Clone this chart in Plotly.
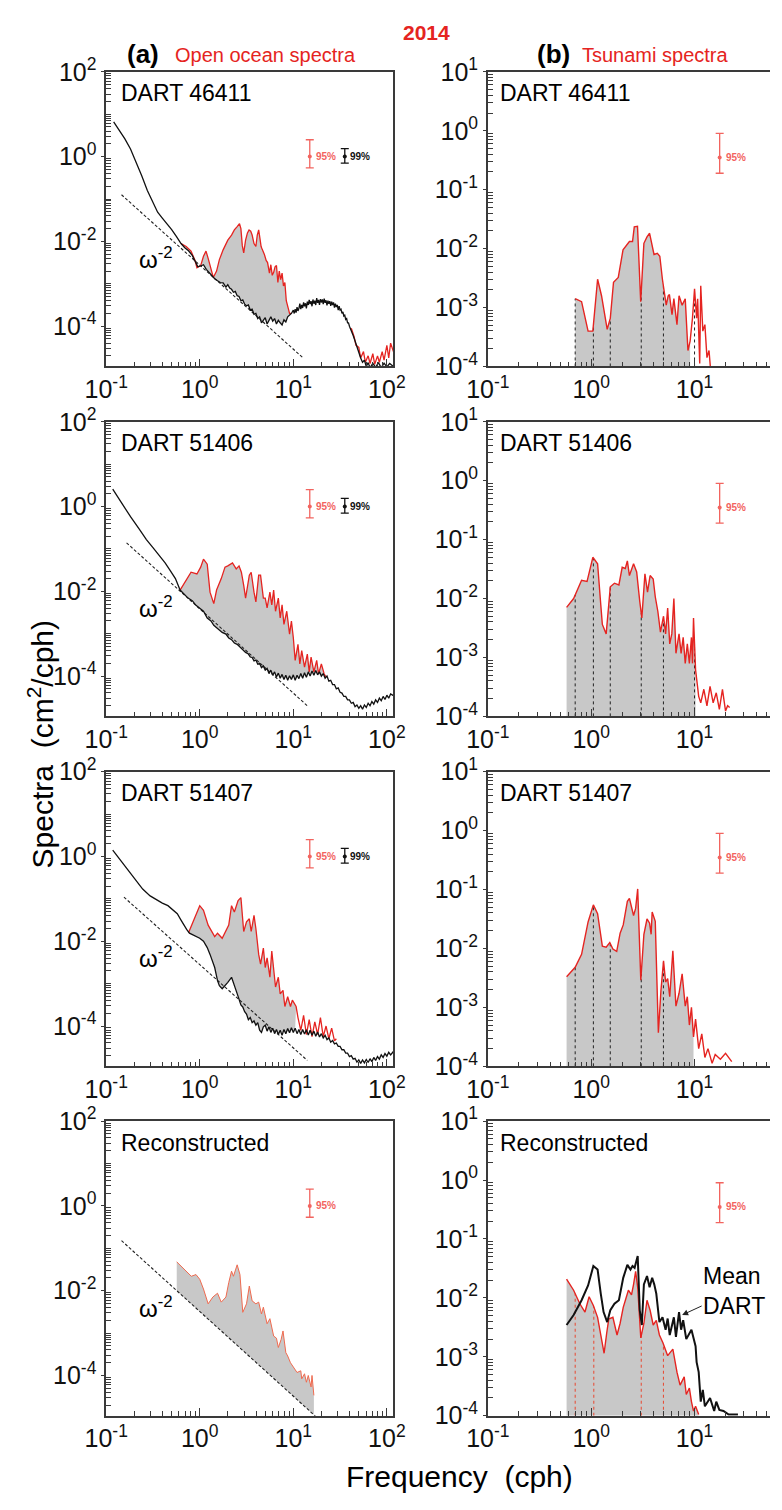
import numpy as np
import plotly.graph_objects as go

# ---------------- data: log10(frequency, cph) and log10(spectrum, cm^2/cph) ----------------
# (a) open-ocean spectra -- DART 46411 (background, black)
a1_bg_lf = [-0.92,-0.86,-0.80,-0.74,-0.68,-0.62,-0.56,-0.50,-0.45,-0.40,-0.35,-0.30,-0.25,-0.20,-0.16,-0.12,-0.08,-0.05,-0.02,0.01,0.04,0.07,0.10,0.13,0.16,0.19,0.22,0.25,
            0.28,0.30,0.32,0.34,0.36,0.38,0.40,0.42,0.44,0.46,0.48,0.50,0.52,0.54,0.56,0.58,0.60,0.62,0.64,0.66,0.68,0.70,0.72,0.74,0.76,0.78,0.80,0.82,0.84,0.86,0.88,0.90,
            0.92,0.94,0.96,0.98,1.00,1.01,1.02,1.03,1.04,1.05,1.06,1.07,1.08,1.09,1.10,1.11,1.12,1.13,1.14,1.15,1.16,1.17,1.18,1.19,1.20,1.21,1.22,1.23,1.24,1.25,1.26,1.27,
            1.28,1.29,1.30,1.31,1.32,1.33,1.34,1.35,1.36,1.37,1.38,1.39,1.40,1.41,1.42,1.43,1.44,1.45,1.46,1.47,1.48,1.49,1.50,1.51,1.52,1.53,1.54,1.55,1.56,1.57,1.58,1.59,
            1.60,1.62,1.64,1.66,1.68,1.70,1.72,1.74,1.76,1.78,1.80,1.82,1.85,1.88,1.91,1.94,1.97,2.00,2.03,2.07]
a1_bg_ls = [0.82,0.62,0.42,0.18,-0.12,-0.45,-0.80,-1.10,-1.31,-1.45,-1.58,-1.72,-1.88,-2.05,-2.15,-2.22,-2.33,-2.45,-2.60,-2.58,-2.55,-2.66,-2.74,-2.80,-2.88,-2.93,-2.97,-2.98,
            -3.08,-3.02,-3.10,-3.13,-3.20,-3.18,-3.28,-3.30,-3.40,-3.38,-3.48,-3.52,-3.50,-3.62,-3.60,-3.72,-3.70,-3.82,-3.78,-3.92,-3.85,-3.80,-3.95,-3.86,-3.78,-3.88,-3.82,-3.95,-3.86,-3.92,-3.97,-3.85,
            -3.90,-3.78,-3.74,-3.70,-3.62,-3.70,-3.60,-3.68,-3.55,-3.64,-3.58,-3.47,-3.60,-3.50,-3.57,-3.44,-3.53,-3.46,-3.58,-3.42,-3.50,-3.38,-3.48,-3.41,-3.53,-3.37,-3.47,-3.40,-3.50,-3.34,-3.45,-3.38,
            -3.50,-3.36,-3.44,-3.37,-3.48,-3.35,-3.45,-3.39,-3.51,-3.40,-3.47,-3.41,-3.52,-3.42,-3.50,-3.44,-3.56,-3.47,-3.55,-3.50,-3.62,-3.53,-3.62,-3.60,-3.70,-3.66,-3.76,-3.74,-3.84,-3.82,-3.92,-3.92,
            -4.00,-4.10,-4.22,-4.35,-4.50,-4.62,-4.75,-4.85,-4.80,-4.95,-4.86,-4.98,-4.88,-4.97,-4.86,-4.98,-4.87,-4.96,-4.88,-4.95]
# DART 46411 (tsunami event, red)
a1_ts_lf = [-0.20,-0.145,-0.093,-0.05,-0.03,0.01,0.04,0.067,0.09,0.11,0.145,0.18,0.21,0.25,0.30,0.34,0.37,0.40,0.425,0.44,0.455,0.47,0.49,0.51,0.527,0.545,0.56,0.58,0.60,0.615,0.63,0.645,0.656,0.67,0.69,0.71,0.725,0.745,0.76,0.775,0.79,0.805,0.82,0.835,0.85,0.865,0.88,0.895,0.91,0.925,0.94,0.96,0.98]
a1_ts_ls = [-2.05,-2.12,-2.23,-2.45,-2.62,-2.57,-2.35,-2.23,-2.40,-2.57,-2.85,-2.70,-2.43,-2.20,-1.97,-1.85,-1.73,-1.65,-1.58,-1.70,-2.10,-2.27,-1.97,-1.80,-1.73,-1.76,-1.85,-2.05,-2.12,-1.85,-1.73,-1.95,-2.12,-2.20,-2.30,-2.45,-2.50,-2.75,-2.55,-2.80,-2.73,-2.60,-2.57,-2.97,-2.70,-2.90,-2.75,-3.05,-2.97,-3.40,-3.55,-3.70,-3.70]
a1_hf_lf = [1.62,1.65,1.67,1.70,1.72,1.75,1.77,1.80,1.82,1.85,1.87,1.90,1.92,1.95,1.97,2.00,2.02,2.04,2.07]
a1_hf_ls = [-4.05,-4.25,-4.45,-4.50,-4.75,-4.60,-4.85,-4.70,-4.88,-4.65,-4.90,-4.70,-4.85,-4.60,-4.80,-4.45,-4.75,-4.40,-4.60]
a1_w2_lf = [-0.836, 1.10]
a1_w2_ls = [-0.90, -4.74]

# DART 51406
a2_bg_lf = [-0.93,-0.85,-0.74,-0.65,-0.57,-0.50,-0.43,-0.37,-0.315,-0.26,-0.21,-0.17,-0.125,-0.08,-0.04,0.0,0.04,0.08,0.12,0.15,0.18,0.21,0.24,0.28,0.31,0.34,0.37,0.40,0.43,0.46,0.49,
            0.52,0.54,0.56,0.58,0.60,0.62,0.64,0.66,0.68,0.70,0.72,0.74,0.76,0.78,0.80,0.82,0.84,0.86,0.88,0.90,0.92,0.94,0.96,0.98,1.00,1.02,1.04,1.06,1.08,1.10,1.12,1.14,
            1.16,1.18,1.20,1.22,1.24,1.26,1.28,1.30,1.32,1.34,1.36,1.38,1.40,1.42,1.44,1.46,1.48,1.50,1.52,1.54,1.56,1.58,1.60,1.62,1.64,1.66,1.68,1.70,1.72,1.74,1.76,1.78,
            1.80,1.82,1.84,1.86,1.88,1.90,1.92,1.94,1.96,1.98,2.00,2.02,2.04,2.07]
a2_bg_ls = [0.41,0.13,-0.24,-0.52,-0.78,-0.97,-1.16,-1.33,-1.51,-1.70,-1.97,-2.05,-2.16,-2.22,-2.33,-2.40,-2.47,-2.63,-2.70,-2.80,-2.86,-2.90,-2.97,-3.01,-3.10,-3.14,-3.22,-3.25,-3.32,-3.38,-3.44,
            -3.48,-3.55,-3.56,-3.64,-3.62,-3.72,-3.70,-3.80,-3.76,-3.86,-3.82,-3.94,-3.86,-3.98,-3.90,-4.02,-3.93,-4.05,-3.96,-4.08,-3.98,-4.10,-3.99,-4.08,-3.97,-4.10,-3.98,-4.06,-3.94,-4.05,-3.92,-4.03,
            -3.90,-4.00,-3.88,-3.98,-3.87,-3.97,-3.90,-4.00,-3.94,-4.05,-4.00,-4.12,-4.10,-4.20,-4.20,-4.30,-4.28,-4.38,-4.40,-4.48,-4.48,-4.56,-4.56,-4.64,-4.62,-4.72,-4.68,-4.76,-4.70,-4.78,-4.68,-4.74,
            -4.64,-4.70,-4.60,-4.66,-4.56,-4.62,-4.52,-4.58,-4.48,-4.55,-4.45,-4.52,-4.42,-4.46]
a2_ts_lf = [-0.21,-0.16,-0.093,-0.03,0.01,0.04,0.08,0.11,0.15,0.18,0.23,0.27,0.30,0.35,0.39,0.42,0.445,0.47,0.49,0.53,0.55,0.58,0.60,0.63,0.65,0.68,0.70,0.72,0.75,0.77,0.79,0.81,0.84,0.86,0.88,0.90,0.93,0.96,0.98,1.00,1.02,1.05,1.07,1.09,1.12,1.15,1.17,1.19,1.22,1.25,1.27,1.30,1.33,1.35]
a2_ts_ls = [-1.97,-1.78,-1.55,-1.59,-1.43,-1.24,-1.36,-2.02,-2.29,-1.97,-1.70,-1.43,-1.40,-1.33,-1.47,-1.40,-1.55,-1.86,-2.16,-1.62,-1.55,-2.02,-2.25,-1.62,-1.62,-2.16,-2.16,-2.39,-2.02,-2.32,-1.97,-2.47,-2.16,-2.63,-2.32,-2.78,-2.47,-3.01,-2.70,-3.09,-3.63,-3.25,-3.71,-3.40,-3.79,-3.48,-3.90,-3.55,-3.90,-3.63,-3.95,-3.71,-3.95,-4.02]
a2_w2_lf = [-0.782, 1.15]
a2_w2_ls = [-0.857, -4.70]

# DART 51407
a3_bg_lf = [-0.93,-0.85,-0.775,-0.70,-0.61,-0.53,-0.455,-0.40,-0.34,-0.29,-0.24,-0.20,-0.17,-0.14,-0.11,-0.07,-0.03,0.0,0.04,0.08,0.11,0.14,0.16,0.19,0.21,0.24,0.27,0.30,0.34,0.38,0.41,
            0.44,0.46,0.48,0.50,0.52,0.54,0.56,0.58,0.60,0.62,0.64,0.66,0.68,0.70,0.72,0.74,0.76,0.78,0.80,0.82,0.84,0.86,0.88,0.90,0.92,0.94,0.96,0.98,1.00,1.02,1.04,1.06,
            1.08,1.10,1.12,1.14,1.16,1.18,1.20,1.22,1.24,1.26,1.28,1.30,1.32,1.34,1.36,1.38,1.40,1.42,1.44,1.46,1.48,1.50,1.52,1.54,1.56,1.58,1.60,1.62,1.64,1.66,1.68,1.70,
            1.72,1.74,1.76,1.78,1.80,1.82,1.84,1.86,1.88,1.90,1.92,1.94,1.96,1.98,2.00,2.02,2.04,2.07]
a3_bg_ls = [0.15,-0.08,-0.31,-0.52,-0.77,-0.93,-1.04,-1.10,-1.16,-1.25,-1.35,-1.50,-1.62,-1.72,-1.81,-1.85,-1.89,-1.93,-2.00,-2.15,-2.31,-2.50,-2.62,-2.93,-3.05,-3.12,-3.05,-2.97,-2.85,-3.08,-3.30,
            -3.50,-3.55,-3.66,-3.72,-3.85,-3.80,-3.92,-3.88,-3.98,-3.92,-4.10,-4.15,-4.02,-3.98,-4.12,-4.02,-4.15,-4.05,-4.18,-4.08,-4.20,-4.10,-4.22,-4.08,-4.18,-4.06,-4.16,-4.04,-4.15,-4.05,-4.18,-4.08,
            -4.20,-4.08,-4.19,-4.09,-4.21,-4.10,-4.22,-4.12,-4.24,-4.14,-4.26,-4.18,-4.28,-4.22,-4.32,-4.28,-4.38,-4.34,-4.42,-4.40,-4.48,-4.48,-4.56,-4.56,-4.64,-4.64,-4.72,-4.70,-4.78,-4.76,-4.85,-4.80,
            -4.88,-4.80,-4.87,-4.79,-4.86,-4.77,-4.84,-4.74,-4.81,-4.72,-4.78,-4.68,-4.74,-4.65,-4.71,-4.62,-4.68,-4.60]
a3_ts_lf = [-0.12,-0.05,0.0,0.04,0.09,0.16,0.19,0.24,0.27,0.31,0.34,0.37,0.41,0.44,0.47,0.50,0.53,0.55,0.58,0.60,0.63,0.65,0.68,0.70,0.72,0.75,0.77,0.79,0.81,0.84,0.86,0.89,0.91,0.94,0.97,0.99,1.03,1.05,1.08,1.11,1.14,1.17,1.20,1.23,1.26,1.29,1.32,1.35,1.38,1.41,1.44,1.46]
a3_ts_ls = [-1.80,-1.43,-1.16,-1.27,-1.62,-1.89,-1.81,-1.93,-1.81,-1.62,-1.16,-1.31,-1.04,-0.97,-1.77,-1.54,-1.47,-1.77,-1.39,-1.70,-2.31,-2.54,-2.16,-2.62,-2.39,-2.85,-2.23,-2.70,-3.08,-2.85,-3.24,-3.16,-3.54,-3.31,-3.54,-3.39,-3.54,-3.80,-4.10,-3.75,-4.20,-3.85,-4.25,-3.90,-4.20,-3.80,-4.25,-4.00,-4.30,-4.05,-4.35,-4.30]
a3_w2_lf = [-0.81, 1.15]
a3_w2_ls = [-0.96, -4.81]

# Reconstructed open-ocean spectrum
a4_ts_lf = [-0.246,-0.16,-0.09,-0.04,0.0,0.04,0.09,0.14,0.19,0.23,0.28,0.31,0.34,0.36,0.40,0.43,0.46,0.50,0.53,0.56,0.60,0.63,0.66,0.68,0.72,0.75,0.79,0.82,0.84,0.87,0.89,0.92,0.94,0.97,0.99,1.02,1.04,1.08,1.09,1.12,1.14,1.16,1.19,1.20,1.22]
a4_ts_ls = [-1.32,-1.50,-1.66,-1.62,-1.73,-1.96,-2.31,-2.15,-2.06,-2.27,-2.15,-1.81,-1.54,-1.66,-1.39,-1.62,-2.51,-2.31,-1.89,-2.24,-2.31,-2.27,-2.55,-2.39,-2.78,-2.66,-3.07,-3.12,-3.34,-3.15,-2.95,-3.46,-3.54,-3.70,-3.77,-3.85,-3.93,-3.89,-4.08,-3.96,-4.16,-4.00,-4.27,-4.00,-4.47]
a4_w2_lf = [-0.836, 1.236]
a4_w2_ls = [-0.82, -4.96]

# (b) tsunami spectra
b1_lf = [-0.155,-0.093,-0.03,0.016,0.062,0.10,0.155,0.185,0.216,0.262,0.308,0.34,0.37,0.40,0.417,0.448,0.479,0.51,0.54,0.565,0.587,0.608,0.64,0.664,0.689,0.726,0.745,0.757,0.782,0.80,0.83,0.85,0.88,0.91,0.936,0.957,0.98,1.0,1.02,1.03,1.05,1.06,1.08,1.10,1.12,1.14,1.155]
b1_ls = [-2.85,-2.90,-3.40,-3.40,-2.52,-2.80,-3.37,-3.18,-2.57,-2.49,-2.02,-1.95,-1.88,-1.88,-1.63,-1.62,-2.90,-1.91,-1.80,-1.74,-1.96,-2.10,-2.08,-2.13,-2.52,-2.96,-2.80,-2.78,-3.12,-2.85,-3.29,-2.80,-2.96,-2.85,-3.73,-3.57,-3.18,-2.68,-3.18,-2.85,-3.95,-2.63,-3.40,-3.29,-3.85,-3.73,-4.05]
b2_lf = [-0.238,-0.17,-0.093,-0.04,0.016,0.062,0.093,0.108,0.145,0.185,0.225,0.268,0.30,0.33,0.35,0.37,0.41,0.44,0.47,0.49,0.52,0.545,0.57,0.60,0.62,0.645,0.67,0.70,0.72,0.74,0.76,0.78,0.80,0.82,0.85,0.87,0.89,0.91,0.93,0.95,0.97,0.98,0.99,1.01,1.04,1.06,1.09,1.12,1.15,1.18,1.21,1.24,1.27,1.30,1.32,1.34]
b2_ls = [-2.15,-2.00,-1.69,-1.71,-1.30,-1.41,-2.11,-2.44,-2.60,-1.80,-1.74,-1.77,-1.47,-1.49,-1.36,-1.61,-1.41,-1.55,-2.05,-2.33,-1.58,-1.89,-1.61,-1.67,-1.97,-2.22,-2.57,-2.30,-2.60,-2.16,-2.77,-2.60,-2.00,-2.93,-2.60,-2.93,-2.66,-3.10,-2.77,-3.10,-2.66,-3.10,-2.33,-3.21,-3.66,-3.77,-3.54,-3.82,-3.49,-3.77,-3.60,-3.88,-3.54,-3.91,-3.82,-3.85]
b3_lf = [-0.238,-0.155,-0.093,-0.03,0.021,0.062,0.108,0.145,0.18,0.21,0.247,0.28,0.31,0.35,0.37,0.41,0.43,0.45,0.48,0.51,0.54,0.565,0.58,0.59,0.62,0.65,0.675,0.70,0.72,0.74,0.76,0.79,0.82,0.85,0.88,0.91,0.93,0.95,0.97,0.99,1.01,1.04,1.07,1.10,1.13,1.17,1.20,1.25,1.30,1.36]
b3_ls = [-2.48,-2.32,-2.10,-1.55,-1.26,-1.41,-1.96,-1.98,-1.90,-2.01,-2.05,-1.74,-1.60,-1.20,-1.15,-1.44,-1.32,-0.99,-2.54,-1.76,-1.50,-1.57,-1.76,-1.38,-1.54,-3.43,-2.71,-2.21,-2.57,-2.51,-2.82,-2.04,-2.98,-2.76,-2.43,-2.98,-2.82,-3.30,-3.00,-3.50,-3.20,-3.70,-3.45,-3.85,-3.70,-3.95,-3.80,-3.88,-3.78,-3.92]
b4_rec_lf = [-0.238,-0.17,-0.11,-0.06,-0.02,0.021,0.062,0.10,0.125,0.15,0.17,0.21,0.25,0.28,0.31,0.36,0.39,0.41,0.43,0.45,0.48,0.51,0.54,0.57,0.60,0.63,0.66,0.694,0.74,0.79,0.83,0.86,0.90,0.92,0.95,0.97,0.99,1.01,1.04]
b4_rec_ls = [-1.68,-1.87,-2.10,-2.24,-1.98,-2.13,-2.33,-2.68,-2.94,-2.60,-2.36,-2.33,-2.63,-2.43,-2.16,-1.87,-1.95,-1.77,-1.55,-1.82,-2.68,-2.43,-2.04,-2.21,-2.46,-2.38,-2.63,-2.76,-2.98,-2.87,-3.26,-3.48,-3.34,-3.64,-3.53,-3.76,-3.92,-3.84,-3.98]
b4_mean_lf = [-0.238,-0.17,-0.093,-0.03,0.021,0.062,0.093,0.12,0.155,0.185,0.225,0.268,0.31,0.35,0.38,0.40,0.42,0.45,0.47,0.49,0.51,0.54,0.565,0.59,0.61,0.63,0.66,0.69,0.72,0.74,0.76,0.80,0.82,0.85,0.87,0.89,0.92,0.97,1.01,1.02,1.04,1.06,1.08,1.10,1.15,1.19,1.21,1.24,1.28,1.33,1.42]
b4_mean_ls = [-2.46,-2.29,-2.04,-1.79,-1.46,-1.52,-1.93,-2.24,-2.41,-2.21,-2.10,-2.04,-1.66,-1.44,-1.52,-1.46,-1.49,-1.29,-2.21,-2.46,-1.77,-1.63,-1.82,-1.66,-1.77,-1.93,-2.41,-2.33,-2.54,-2.35,-2.63,-2.33,-2.66,-2.24,-2.54,-2.38,-2.70,-2.54,-2.82,-3.09,-3.26,-3.76,-3.56,-3.84,-3.70,-3.92,-3.76,-3.90,-3.92,-3.98,-3.98]

# resonant (mode) frequencies marked with dashed lines, cph
modes_b = [[0.70, 1.05, 1.53, 3.05, 5.0, 10.0],
           [0.70, 1.05, 1.53, 3.05, 5.0, 10.0],
           [0.70, 1.05, 1.53, 3.05, 5.0],
           [0.70, 1.06, 3.05, 5.0]]
fill_end_b = [0.96, 1.02, 1.0, 1.04]        # log10 f where the grey shading stops
fill_end_a3 = 1.03

# confidence bars: frequency, centre, upper, lower
ci95_a = [15.0, 1.0, 2.5, 0.54]
ci99_a = [35.5, 1.0, 1.55, 0.70]
ci95_b = [17.5, 0.35, 0.90, 0.19]

panel_names = ["DART 46411", "DART 51406", "DART 51407", "Reconstructed"]

# ---------------- layout geometry ----------------
W, H = 782, 1510
FONT = "Liberation Sans, Arial, Helvetica, sans-serif"
RED = "#e52421"
LRED = "#f2645f"
GREY = "#c8c8c8"
AXC = "#3a3a3a"
ROW_TOP = [55, 412.5, 770, 1127]
PH = 301
LXR = [-1, 2.067]
LYR = [-4.95, 2]
RXR = [-1, 1.73]
RYR = [-4, 1]
TICKSIZE = 25

fig = go.Figure()


def aid(k):
    return "" if k == 1 else str(k)


def L(a):
    return 10 ** np.asarray(a, dtype=float)


def add(k, lx, ly, **kw):
    fig.add_trace(go.Scatter(x=L(lx), y=L(ly), xaxis="x" + aid(k), yaxis="y" + aid(k),
                             showlegend=False, hoverinfo="skip", **kw))


def poly(k, lx, ly, color=GREY):
    add(k, lx, ly, mode="lines", fill="toself", fillcolor=color, line=dict(width=0))


def minor_vals(lo, hi):
    out = []
    for e in range(int(np.floor(lo)) - 1, int(np.ceil(hi)) + 1):
        for m in range(2, 10):
            v = m * 10.0 ** e
            if 10 ** lo <= v <= 10 ** hi:
                out.append(v)
    return out


def sup(e):
    return "10<sup>%d</sup>" % e


annotations = []


def ann(text, x, y, size, color="black", xanchor="center", yanchor="middle", bold=False, **kw):
    if bold:
        text = "<b>%s</b>" % text
    annotations.append(dict(text=text, x=x, y=y, showarrow=False, xanchor=xanchor, yanchor=yanchor,
                            font=dict(family=FONT, size=size, color=color), **kw))


def P(px, py):
    return px / W, 1 - py / H


layout = {}
for r in range(4):
    top = ROW_TOP[r]
    ydom = [1 - (top + PH) / H, 1 - top / H]
    for c in range(2):
        k = r * 2 + c + 1
        if c == 0:
            xr, yr, dom = LXR, LYR, [88 / W, 388 / W]
            ylab_every = 2
        else:
            xr, yr, dom = RXR, RYR, [487 / W, 1.0]
            ylab_every = 1
        xt = [10.0 ** e for e in range(-1, 3)]
        xtt = [sup(e) for e in range(-1, 3)]
        ye = list(range(int(np.ceil(yr[0])), int(np.floor(yr[1])) + 1))
        ye_lab = [e for e in ye if (e - ye[-1]) % ylab_every == 0]
        ye_unl = [e for e in ye if e not in ye_lab]
        layout["xaxis" + aid(k)] = dict(
            type="log", range=xr, domain=dom, anchor="y" + aid(k), showgrid=False, zeroline=False,
            showline=True, linecolor=AXC, linewidth=1.5, mirror=True,
            ticks="inside", ticklen=8, tickwidth=1.2, tickcolor=AXC,
            tickmode="array", tickvals=xt, ticktext=xtt,
            tickfont=dict(family=FONT, size=TICKSIZE, color="#111"),
            minor=dict(ticks="inside", ticklen=5, tickwidth=1, tickcolor=AXC,
                       tickvals=minor_vals(xr[0], xr[1]), showgrid=False))
        layout["yaxis" + aid(k)] = dict(
            type="log", range=yr, domain=ydom, anchor="x" + aid(k), showgrid=False, zeroline=False,
            showline=True, linecolor=AXC, linewidth=1.5, mirror=(c == 0),
            ticks="outside", ticklen=3, tickwidth=1.2, tickcolor=AXC,
            tickmode="array", tickvals=[10.0 ** e for e in ye_lab], ticktext=[sup(e) for e in ye_lab],
            tickfont=dict(family=FONT, size=TICKSIZE, color="#111"),
            minor=dict(ticks="inside", ticklen=5, tickwidth=1, tickcolor=AXC,
                       tickvals=minor_vals(yr[0], yr[1]) + [10.0 ** e for e in ye_unl], showgrid=False))

# ---------------- column (a) ----------------
a_sets = [
    (a1_bg_lf, a1_bg_ls, a1_ts_lf, a1_ts_ls, a1_w2_lf, a1_w2_ls, None),
    (a2_bg_lf, a2_bg_ls, a2_ts_lf, a2_ts_ls, a2_w2_lf, a2_w2_ls, None),
    (a3_bg_lf, a3_bg_ls, a3_ts_lf, a3_ts_ls, a3_w2_lf, a3_w2_ls, fill_end_a3),
]
for r, (bx, by, tx, ty, wx, wy, fend) in enumerate(a_sets):
    k = r * 2 + 1
    bx, by, tx, ty = map(np.asarray, (bx, by, tx, ty))
    m_t = np.ones_like(tx, dtype=bool) if fend is None else tx <= fend
    fx, fy = tx[m_t], ty[m_t]
    m_b = (bx >= fx.min()) & (bx <= fx.max())
    poly(k, np.r_[fx, bx[m_b][::-1]], np.r_[fy, by[m_b][::-1]])
    add(k, wx, wy, mode="lines", line=dict(color="#222", width=1.1, dash="3px,2px"))
    add(k, tx, ty, mode="lines", line=dict(color=RED, width=1.3))
    if r == 0:
        add(k, a1_hf_lf, a1_hf_ls, mode="lines", line=dict(color=RED, width=1.3))
    add(k, bx, by, mode="lines", line=dict(color="#111", width=1.3))

# reconstructed (a)
k = 7
tx, ty = np.asarray(a4_ts_lf), np.asarray(a4_ts_ls)
ends = np.interp(tx[[-1, 0]], a4_w2_lf, a4_w2_ls)
poly(k, np.r_[tx, tx[[-1, 0]]], np.r_[ty, ends])
add(k, a4_w2_lf, a4_w2_ls, mode="lines", line=dict(color="#222", width=1.1, dash="3px,2px"))
add(k, tx, ty, mode="lines", line=dict(color="#ef6a4f", width=1.0))

# confidence bars (a)
for r in range(4):
    k = r * 2 + 1
    f, c0, up, lo = ci95_a
    fig.add_trace(go.Scatter(x=[f], y=[c0], xaxis="x" + aid(k), yaxis="y" + aid(k), mode="markers",
                             marker=dict(color=LRED, size=4), showlegend=False, hoverinfo="skip",
                             error_y=dict(type="data", symmetric=False, array=[up - c0], arrayminus=[c0 - lo],
                                          color=LRED, thickness=1.3, width=4)))
    ann("95%", np.log10(f) + 0.045, np.log10(c0), 10, color=LRED, xanchor="left", bold=True,
        xref="x" + aid(k), yref="y" + aid(k))
    if r < 3:
        f, c0, up, lo = ci99_a
        fig.add_trace(go.Scatter(x=[f], y=[c0], xaxis="x" + aid(k), yaxis="y" + aid(k), mode="markers",
                                 marker=dict(color="#111", size=4), showlegend=False, hoverinfo="skip",
                                 error_y=dict(type="data", symmetric=False, array=[up - c0],
                                              arrayminus=[c0 - lo], color="#111", thickness=1.3, width=4)))
        ann("99%", np.log10(f) + 0.03, np.log10(c0), 10, color="#111", xanchor="left", bold=True,
            xref="x" + aid(k), yref="y" + aid(k))
    # omega^-2 label
    ann("ω<sup>-2</sup>", -0.47, -2.38, 24, xref="x" + aid(k), yref="y" + aid(k))

# ---------------- column (b) ----------------
b_sets = [(b1_lf, b1_ls), (b2_lf, b2_ls), (b3_lf, b3_ls), (b4_rec_lf, b4_rec_ls)]
for r, (lx, ly) in enumerate(b_sets):
    k = r * 2 + 2
    lx, ly = np.asarray(lx), np.asarray(ly)
    m = lx <= fill_end_b[r]
    fx, fy = lx[m], ly[m]
    poly(k, np.r_[fx[0], fx, fx[-1]], np.r_[RYR[0], fy, RYR[0]])
    dx, dy = [], []
    for f in modes_b[r]:
        lf = np.log10(f)
        dx += [lf, lf, np.nan]
        dy += [RYR[0], np.interp(lf, lx, ly), np.nan]
    dcol = "#222" if r < 3 else "#e8472f"
    add(k, dx, dy, mode="lines", line=dict(color=dcol, width=1.0, dash="3px,3px"), connectgaps=False)
    add(k, lx, ly, mode="lines", line=dict(color=RED, width=1.4))
    if r == 3:
        add(k, b4_mean_lf, b4_mean_ls, mode="lines", line=dict(color="#111", width=2.0))
    f, c0, up, lo = ci95_b
    fig.add_trace(go.Scatter(x=[f], y=[c0], xaxis="x" + aid(k), yaxis="y" + aid(k), mode="markers",
                             marker=dict(color=LRED, size=4), showlegend=False, hoverinfo="skip",
                             error_y=dict(type="data", symmetric=False, array=[up - c0], arrayminus=[c0 - lo],
                                          color=LRED, thickness=1.3, width=4)))
    ann("95%", np.log10(f) + 0.04, np.log10(c0), 10, color=LRED, xanchor="left", bold=True,
        xref="x" + aid(k), yref="y" + aid(k))

# panel names
for r in range(4):
    x, y = P(101, ROW_TOP[r] + 22)
    ann(panel_names[r], x, y, 23, xanchor="left", xref="paper", yref="paper")
    x, y = P(498, ROW_TOP[r] + 22)
    ann(panel_names[r], x, y, 23, xanchor="left", xref="paper", yref="paper")

# Mean DART label with arrow
annotations.append(dict(text="Mean<br>DART", x=0.88, y=-2.29, xref="x8", yref="y8", showarrow=True,
                        ax=52, ay=-24, arrowhead=2, arrowsize=1.2, arrowwidth=1, arrowcolor="#222",
                        font=dict(family=FONT, size=23, color="black"), align="left", standoff=0))

# titles
x, y = P(423, 15)
ann("2014", x, y, 21, color=RED, bold=True, xref="paper", yref="paper")
x, y = P(127, 37)
ann("(a)", x, y, 26, bold=True, xref="paper", yref="paper")
x, y = P(158, 38)
ann("Open ocean spectra", x, y, 20, color=RED, xanchor="left", xref="paper", yref="paper")
x, y = P(556, 37)
ann("(b)", x, y, 26, bold=True, xref="paper", yref="paper")
x, y = P(583, 38)
ann("Tsunami spectra", x, y, 20, color=RED, xanchor="left", xref="paper", yref="paper")

# axis titles
x, y = P(457, 1490)
ann("Frequency  (cph)", x, y, 30, xref="paper", yref="paper")
x, y = P(20, 742)
ann("Spectra  (cm<sup>2</sup>/cph)", x, y, 30, textangle=-90, xref="paper", yref="paper")

fig.update_layout(width=W, height=H, margin=dict(l=0, r=0, t=0, b=0), paper_bgcolor="white",
                  plot_bgcolor="white", showlegend=False, annotations=annotations, **layout)
fig.write_html("out.html")
